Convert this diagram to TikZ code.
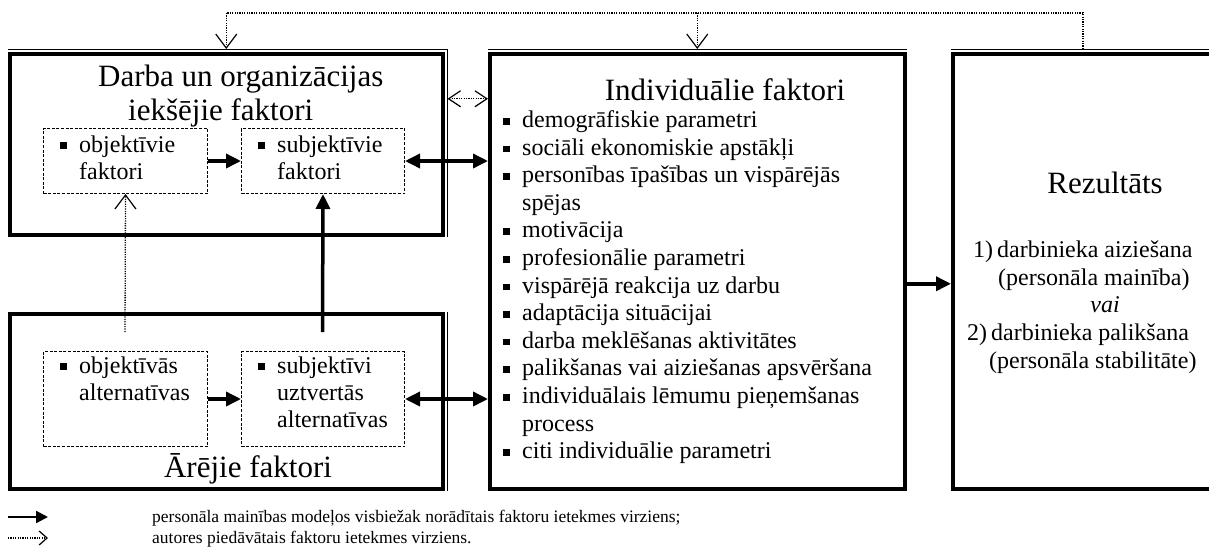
\documentclass[tikz,border=0pt]{standalone}
\usepackage{fontspec}
\setmainfont{Liberation Serif}
\usetikzlibrary{arrows.meta}
\newcommand\sqb{\rule[0.12em]{0.28em}{0.28em}}
\newcommand\bl{\makebox[0pt][r]{\sqb\hspace{0.5em}}}
\begin{document}
\begin{tikzpicture}[x=1pt,y=-1pt,
  bigbox/.style={draw, line width=3.5pt, inner sep=0pt, anchor=north west},
  thinl/.style={line width=1pt},
  dbox/.style={draw, line width=1pt, dash pattern=on 3pt off 1.6pt, inner sep=0pt, anchor=north west},
  ttl/.style={font=\fontsize{31}{35}\selectfont, inner sep=0pt},
  txt/.style={font=\fontsize{24}{27.6}\selectfont, inner sep=0pt, anchor=base west},
  lgd/.style={font=\fontsize{17.5}{21}\selectfont, inner sep=0pt, anchor=base west},
  sarr/.style={line width=3.5pt, -{Triangle[length=15pt,width=14pt]}},
  darr/.style={line width=3.5pt, {Triangle[length=15pt,width=14pt]}-{Triangle[length=15pt,width=14pt]}},
  dotl/.style={line width=1.3pt, dash pattern=on 1.2pt off 1.2pt},
  dotarr/.style={dotl, -{Straight Barb[length=14pt,width=21pt,line width=1.2pt]}},
  dotdbl/.style={dotl, {Straight Barb[length=12pt,width=16pt,line width=1.2pt]}-{Straight Barb[length=12pt,width=16pt,line width=1.2pt]}},
  lsarr/.style={line width=2.2pt, -{Triangle[length=12pt,width=12pt]}},
  ldarr/.style={dotl, -{Straight Barb[length=8pt,width=14pt,line width=1.2pt]}}
]
\useasboundingbox (0,0) rectangle (1209,558);

% big boxes
\node[bigbox, minimum width=433pt, minimum height=181pt] (box1) at (8,52) {};
\node[bigbox, minimum width=433pt, minimum height=175pt] (box2) at (8,312) {};
\node[bigbox, minimum width=415pt, minimum height=435pt] (indiv) at (488,52) {};
\node[bigbox, minimum width=264pt, minimum height=435pt] (rez) at (951,52) {};

% thin outer lines (double frame)
\draw[thinl] ([yshift=3pt]box1.north west) -- ([xshift=3pt,yshift=3pt]box1.north east) -- ([xshift=3pt]box1.south east);
\draw[thinl] ([xshift=3pt]box2.north east) -- ([xshift=3pt]box2.south east);
\draw[thinl] ([yshift=3pt]indiv.north west) -- ([yshift=3pt]indiv.north east);
\draw[thinl] ([yshift=3pt]rez.north west) -- ([yshift=3pt,xshift=10pt]rez.north east);

% dashed inner boxes
\node[dbox, minimum width=164pt, minimum height=65pt] (objF) at (43,128) {};
\node[dbox, minimum width=163pt, minimum height=65pt] (subF) at (241,128) {};
\node[dbox, minimum width=164pt, minimum height=95pt] (objA) at (43,351) {};
\node[dbox, minimum width=163pt, minimum height=95pt] (subA) at (241,351) {};

% titles
\node[ttl, anchor=base west] (t1a) at (98,86) {Darba un organizācijas};
\node[ttl, anchor=base west] (t1b) at (128,120) {iekšējie faktori};
\node[ttl, anchor=base] (t2) at (248,477) {Ārējie faktori};
\node[ttl, anchor=base] (t3) at (725,100) {Individuālie faktori};
\node[ttl, anchor=base] (t4) at (1105,193) {Rezultāts};

% inner box texts
\node[txt] (of1) at (79,152) {\bl objektīvie};
\node[txt] (of2) at (79,179) {faktori};
\node[txt] (sf1) at (277,152) {\bl subjektīvie};
\node[txt] (sf2) at (277,179) {faktori};
\node[txt] (oa1) at (79,373) {\bl objektīvās};
\node[txt] (oa2) at (79,400) {alternatīvas};
\node[txt] (sa1) at (277,373) {\bl subjektīvi};
\node[txt] (sa2) at (277,400) {uztvertās};
\node[txt] (sa3) at (277,427) {alternatīvas};

% individual factors list
\node[txt] (i1) at (522,127.5) {\bl demogrāfiskie parametri};
\node[txt] (i2) at (522,155.1) {\bl sociāli ekonomiskie apstākļi};
\node[txt] (i3) at (522,182.7) {\bl personības īpašības un vispārējās};
\node[txt] (i4) at (522,210.3) {spējas};
\node[txt] (i5) at (522,237.9) {\bl motivācija};
\node[txt] (i6) at (522,265.5) {\bl profesionālie parametri};
\node[txt] (i7) at (522,293.1) {\bl vispārējā reakcija uz darbu};
\node[txt] (i8) at (522,320.7) {\bl adaptācija situācijai};
\node[txt] (i9) at (522,348.3) {\bl darba meklēšanas aktivitātes};
\node[txt] (i10) at (522,375.9) {\bl palikšanas vai aiziešanas apsvēršana};
\node[txt] (i11) at (522,403.5) {\bl individuālais lēmumu pieņemšanas};
\node[txt] (i12) at (522,431.1) {process};
\node[txt] (i13) at (522,458.7) {\bl citi individuālie parametri};

% result texts
\node[txt] (r1) at (973,257.5) {1)\hspace{4pt}darbinieka aiziešana};
\node[txt] (r2) at (998,285.5) {(personāla mainība)};
\node[txt, anchor=base] (r3) at (1105,312.5) {\itshape vai};
\node[txt] (r4) at (967,340.5) {2)\hspace{4pt}darbinieka palikšana};
\node[txt] (r5) at (989,368.5) {(personāla stabilitāte)};

% connectors
\draw[sarr] (objF.east) -- (subF.west);
\draw[darr] (subF.east) -- (subF.east -| indiv.west);
\draw[sarr] (objA.east) -- (objA.east -| subA.west);
\draw[darr] (subA.east) -- (subA.east -| indiv.west);
\coordinate (v1) at (322.5,332);
\draw[sarr] (v1) -- (subF.south);
\coordinate (v2) at (125,332);
\draw[dotarr] (v2) -- (objF.south);
\draw[sarr] ([yshift=-12.5pt]indiv.east) -- ([yshift=-12.5pt]indiv.east -| rez.west);
\draw[dotdbl] ([yshift=45.5pt,xshift=3pt]box1.east) -- ([yshift=45.5pt]box1.east -| indiv.west);

% feedback loop
\coordinate (fb) at (1083,13);
\coordinate (rzt) at ([yshift=3pt]rez.north);
\coordinate (b1t) at ([yshift=3pt]box1.north);
\coordinate (int) at ([yshift=3pt]indiv.north);
\draw[dotl] (rzt -| fb) -- (fb) -- (fb -| b1t);
\draw[dotarr] (fb -| b1t) -- (b1t);
\draw[dotarr] (fb -| int) -- (int);

% legend
\coordinate (la1) at (8,517);
\coordinate (la2) at (48,517);
\coordinate (lb1) at (8,538);
\coordinate (lb2) at (48,538);
\draw[lsarr] (la1) -- (la2);
\draw[ldarr] (lb1) -- (lb2);
\node[lgd] (lt1) at (152,522) {personāla mainības modeļos visbiežak norādītais faktoru ietekmes virziens;};
\node[lgd] (lt2) at (152,543) {autores piedāvātais faktoru ietekmes virziens.};
\end{tikzpicture}
\end{document}
